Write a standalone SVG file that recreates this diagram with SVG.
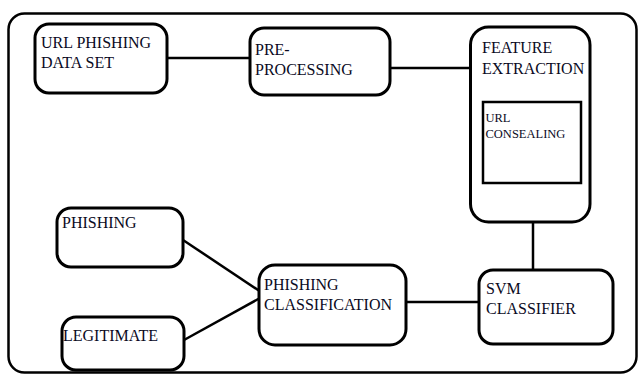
<svg xmlns="http://www.w3.org/2000/svg" width="639" height="374" viewBox="0 0 639 374">
<style>
.box{fill:#fff;stroke:#000;stroke-width:3}
.frame{fill:#fff;stroke:#000;stroke-width:2.5}
.conn{stroke:#000;stroke-width:2.5;fill:none}
text{font-family:"Liberation Serif","Times New Roman",serif;font-size:16px;fill:#0a0a1e}
.small{font-size:12.5px}
</style>
<rect class="frame" x="8.5" y="13.5" width="628" height="359" rx="16"/>
<g id="connectors">
<line class="conn" x1="167" y1="58" x2="250" y2="58"/>
<line class="conn" x1="390" y1="68" x2="471" y2="68"/>
<line class="conn" x1="533" y1="222" x2="533" y2="270"/>
<line class="conn" x1="406" y1="302" x2="479" y2="302"/>
<line class="conn" x1="183" y1="240" x2="261" y2="292"/>
<line class="conn" x1="184" y1="340" x2="260" y2="298"/>
</g>
<g id="url-dataset">
<rect class="box" x="35" y="24" width="132" height="69" rx="14"/>
<text x="41" y="48">URL PHISHING</text>
<text x="41" y="68">DATA SET</text>
</g>
<g id="preprocessing">
<rect class="box" x="250" y="28" width="140" height="67" rx="14"/>
<text x="255" y="55">PRE-</text>
<text x="255" y="75">PROCESSING</text>
</g>
<g id="feature-extraction">
<rect class="box" x="470.5" y="27" width="119.5" height="195" rx="18"/>
<text x="482" y="53">FEATURE</text>
<text x="482" y="74">EXTRACTION</text>
</g>
<g id="url-consealing">
<rect x="483" y="102" width="98" height="81" fill="#fff" stroke="#000" stroke-width="2.5"/>
<text class="small" x="485.5" y="122">URL</text>
<text class="small" x="485.5" y="138">CONSEALING</text>
</g>
<g id="svm-classifier">
<rect class="box" x="479" y="270" width="134" height="74" rx="14"/>
<text x="486" y="294">SVM</text>
<text x="486" y="314">CLASSIFIER</text>
</g>
<g id="phishing-classification">
<rect class="box" x="259" y="265" width="147" height="80" rx="16"/>
<text x="264" y="290">PHISHING</text>
<text x="264" y="310">CLASSIFICATION</text>
</g>
<g id="phishing">
<rect class="box" x="57" y="208" width="126" height="59" rx="14"/>
<text x="62" y="228">PHISHING</text>
</g>
<g id="legitimate">
<rect class="box" x="62" y="317" width="122" height="53" rx="14"/>
<text x="63" y="341">LEGITIMATE</text>
</g>
</svg>
